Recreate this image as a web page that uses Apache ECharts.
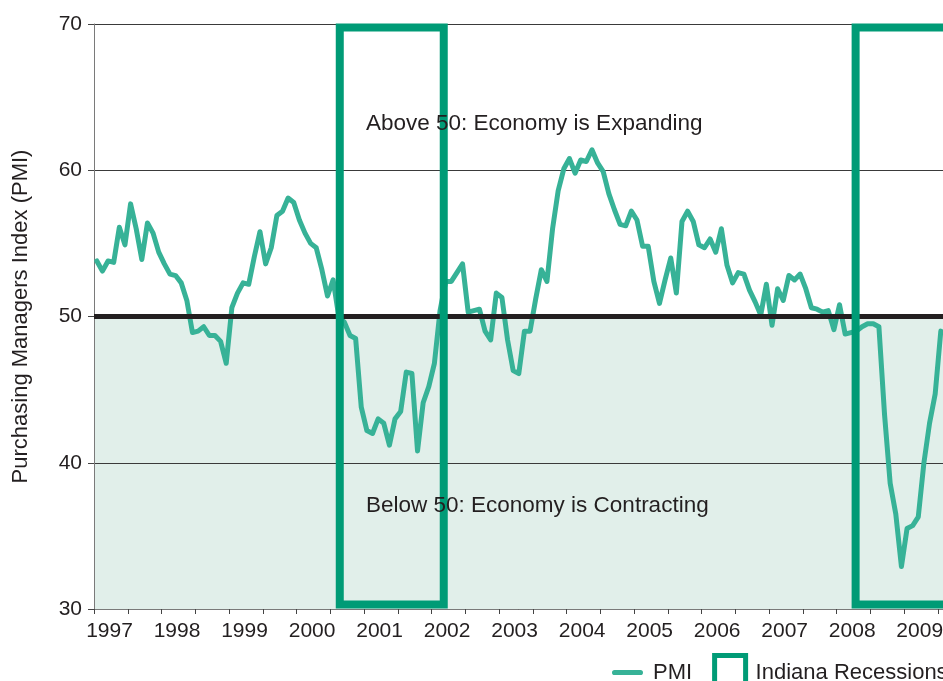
<!DOCTYPE html>
<html>
<head>
<meta charset="utf-8">
<script src="https://cdn.jsdelivr.net/npm/echarts@6/dist/echarts.min.js"></script>
<style>
html, body { margin: 0; padding: 0; background: #fff; }
#chart { width: 943px; height: 681px; }
</style>
</head>
<body>
<div id="chart"></div>
<script>
// PMI, monthly readings Jan 1997 - Jul 2009
const firstYear = 1997
const pmi1997 = [53.8, 53.1, 53.8, 53.7, 56.1, 54.9, 57.7, 56.0, 53.9, 56.4, 55.7, 54.4]
const pmi1998 = [53.6, 52.9, 52.8, 52.3, 51.1, 48.9, 49.0, 49.3, 48.7, 48.7, 48.3, 46.8]
const pmi1999 = [50.6, 51.6, 52.3, 52.2, 54.1, 55.8, 53.6, 54.7, 56.9, 57.2, 58.1, 57.8]
const pmi2000 = [56.6, 55.7, 55.0, 54.7, 53.2, 51.4, 52.5, 50.0, 49.6, 48.7, 48.5, 43.8]
const pmi2001 = [42.2, 42.0, 43.0, 42.7, 41.2, 43.0, 43.5, 46.2, 46.1, 40.8, 44.1, 45.2]
const pmi2002 = [46.8, 50.4, 52.4, 52.4, 53.0, 53.6, 50.3, 50.4, 50.5, 49.0, 48.4, 51.6]
const pmi2003 = [51.3, 48.4, 46.3, 46.1, 49.0, 49.0, 51.2, 53.2, 52.4, 56.0, 58.6, 60.1]
const pmi2004 = [60.8, 59.8, 60.7, 60.6, 61.4, 60.5, 59.9, 58.4, 57.3, 56.3, 56.2, 57.2]
const pmi2005 = [56.6, 54.8, 54.8, 52.4, 50.9, 52.5, 54.0, 51.6, 56.5, 57.2, 56.5, 54.9]
const pmi2006 = [54.7, 55.3, 54.4, 56.0, 53.5, 52.3, 53.0, 52.9, 51.8, 51.0, 50.1, 52.2]
const pmi2007 = [49.4, 51.9, 51.1, 52.8, 52.5, 52.9, 51.9, 50.6, 50.5, 50.3, 50.4, 49.1]
const pmi2008 = [50.8, 48.8, 48.9, 49.0, 49.3, 49.5, 49.5, 49.3, 43.3, 38.6, 36.5, 32.9]
const pmi2009 = [35.5, 35.7, 36.3, 40.0, 42.7, 44.7, 49.0]

// Indiana recessions, as decimal years (second one runs past the right edge)
const recessions = [[2000.64, 2002.18], [2008.28, 2010.5]]

const threshold = 50
const yMin = 30, yMax = 70, yStep = 10
const xMin = 1997, xMax = 2010 + 2 / 12

const pmiValues = [].concat(pmi1997, pmi1998, pmi1999, pmi2000, pmi2001, pmi2002,
    pmi2003, pmi2004, pmi2005, pmi2006, pmi2007, pmi2008, pmi2009)
// each reading sits in the middle of its month
const pmiData = pmiValues.map((v, i) => [firstYear + (i + 0.5) / 12, v])

const font = '"Liberation Sans", Arial, sans-serif'
const ink = '#231f20'
const lineColor = '#37b297'
const boxColor = '#009b76'
const shadeColor = '#e1efea'
const axisGray = '#7a7a7a'

let chart = echarts.init(document.getElementById('chart'), null, {renderer: 'canvas'})

let option = {
    animation: false,
    textStyle: {fontFamily: font},
    grid: [
        {left: 94, right: -40, top: 24, bottom: 72, containLabel: false, outerBoundsMode: 'none'},
        // only used to place the year labels a bit right of each year's start
        {left: 109.5, right: -55.5, top: 24, bottom: 72, containLabel: false, outerBoundsMode: 'none'}
    ],
    xAxis: [
        {
            type: 'value', gridIndex: 0, min: xMin, max: xMax, interval: 0.5, z: 1.5,
            axisLine: {show: true, lineStyle: {color: axisGray, width: 1}},
            axisTick: {show: true, length: 5, lineStyle: {color: '#444', width: 1}},
            axisLabel: {show: false},
            splitLine: {show: false}
        },
        {
            type: 'value', gridIndex: 1, min: xMin, max: xMax, interval: 1,
            axisLine: {show: false},
            axisTick: {show: false},
            splitLine: {show: false},
            axisLabel: {
                fontSize: 21, color: ink, margin: 12, fontFamily: font,
                formatter: v => Number.isInteger(v) ? String(v) : ''
            }
        }
    ],
    yAxis: [
        {
            type: 'value', gridIndex: 0, min: yMin, max: yMax, interval: yStep, z: 1.5,
            name: 'Purchasing Managers Index (PMI)',
            nameLocation: 'middle',
            nameGap: 62,
            nameTextStyle: {fontSize: 22, color: ink, fontFamily: font},
            axisLine: {show: true, lineStyle: {color: axisGray, width: 1}},
            axisTick: {show: true, length: 6, lineStyle: {color: '#444', width: 1}},
            axisLabel: {fontSize: 21, color: ink, margin: 12, fontFamily: font},
            splitLine: {show: true, lineStyle: {color: '#3a3a3a', width: 1}}
        },
        {type: 'value', gridIndex: 1, min: yMin, max: yMax, show: false}
    ],
    legend: {
        left: 612, top: 653, width: 600, padding: 0,
        itemWidth: 31, itemHeight: 34, itemGap: 20,
        textStyle: {fontSize: 22, color: ink, fontFamily: font, padding: [0, 0, 0, 5]},
        data: [
            {name: 'PMI',
             icon: 'path://M2.5,0H27.5A2.5,2.5 0 0 1 27.5,5H2.5A2.5,2.5 0 0 1 2.5,0Z',
             itemStyle: {color: lineColor}},
            {name: 'Indiana Recessions', icon: 'rect',
             itemStyle: {color: '#fff', borderColor: boxColor, borderWidth: 5}}
        ]
    },
    graphic: [
        {type: 'text', left: 366, top: 112, z: 10,
         style: {text: 'Above 50: Economy is Expanding', fontSize: 22.5, fill: ink, fontFamily: font}},
        {type: 'text', left: 366, top: 494, z: 10,
         style: {text: 'Below 50: Economy is Contracting', fontSize: 22.5, fill: ink, fontFamily: font}}
    ],
    series: [
        {
            name: 'PMI',
            type: 'line',
            xAxisIndex: 0, yAxisIndex: 0,
            data: pmiData,
            symbol: 'none',
            z: 2,
            lineStyle: {color: lineColor, width: 5, join: 'round', cap: 'round'},
            itemStyle: {color: lineColor},
            // contracting zone shading
            markArea: {
                silent: true, z: 1,
                itemStyle: {color: shadeColor},
                data: [[{yAxis: yMin}, {yAxis: threshold}]]
            },
            markLine: {
                silent: true, z: 5,
                symbol: ['none', 'none'],
                label: {show: false},
                lineStyle: {color: ink, width: 5, type: 'solid'},
                data: [{yAxis: threshold}]
            }
        },
        {
            name: 'Indiana Recessions',
            type: 'line',
            xAxisIndex: 0, yAxisIndex: 0,
            data: [],
            markArea: {
                silent: true, z: 6,
                itemStyle: {color: 'rgba(0,0,0,0)', borderColor: boxColor, borderWidth: 8},
                data: recessions.map(r => [{xAxis: r[0], yAxis: 30.3}, {xAxis: r[1], yAxis: 69.76}])
            }
        }
    ]
}

chart.setOption(option)
</script>
</body>
</html>
